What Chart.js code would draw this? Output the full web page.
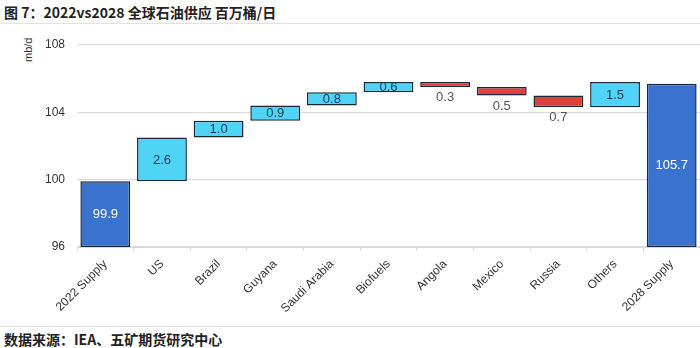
<!DOCTYPE html>
<html>
<head>
<meta charset="utf-8">
<script src="https://cdn.jsdelivr.net/npm/chart.js@4"></script>
<style>
  html, body { margin: 0; padding: 0; background: #fff; }
  body { width: 700px; height: 348px; position: relative; overflow: hidden; }
  .title {
    position: absolute; left: 4px; top: 2px;
    font: bold 14px "Noto Sans CJK SC", sans-serif; color: #222;
  }
  .rule { position: absolute; left: 0; width: 700px; height: 1px; background: #e2e2e2; }
  .source {
    position: absolute; left: 4px; top: 329px;
    font: bold 14px "Noto Sans CJK SC", sans-serif; color: #222;
  }
  .unit {
    position: absolute; left: 22px; top: 62px;
    font: 11px "Liberation Sans", Arial, sans-serif; color: #333;
    transform: rotate(-90deg); transform-origin: left top;
  }
  #wrap { position: absolute; left: 0; top: 24px; width: 700px; height: 300px; }
</style>
</head>
<body>
<div class="title">图 7：2022vs2028 全球石油供应 百万桶/日</div>
<div class="rule" style="top:23px"></div>
<div class="unit">mb/d</div>
<div id="wrap"><canvas id="supplyChart"></canvas></div>
<div class="rule" style="top:326px"></div>
<div class="source">数据来源：IEA、五矿期货研究中心</div>

<script>
// Supply bridge, mb/d
const categories = ['2022 Supply', 'US', 'Brazil', 'Guyana', 'Saudi Arabia', 'Biofuels',
                    'Angola', 'Mexico', 'Russia', 'Others', '2028 Supply'];
const startTotal = 99.9;
const changes = [2.6, 1.0, 0.9, 0.8, 0.6, -0.3, -0.5, -0.7, 1.5];
const endTotal = 105.7;
const yTicks = [96, 100, 104, 108];

const axisMin = 96;

// build floating [from, to] ranges for the waterfall
const ranges = [[axisMin, startTotal]];
const labels = [startTotal.toFixed(1)];
const kinds = ['total'];
let level = startTotal;
changes.forEach(function(d) {
    ranges.push([level, level + d]);
    labels.push(Math.abs(d).toFixed(1));
    kinds.push(d >= 0 ? 'up' : 'down');
    level += d;
});
ranges.push([axisMin, endTotal]);
labels.push(endTotal.toFixed(1));
kinds.push('total');

const fillColors = { total: '#3a72d0', up: '#4fd3f7', down: '#e0403c' };

const barLabels = {
    id: 'barLabels',
    afterDatasetsDraw(chart) {
        const ctx = chart.ctx;
        const meta = chart.getDatasetMeta(0);
        ctx.save();
        ctx.textAlign = 'center';
        ctx.textBaseline = 'middle';
        ctx.font = '13px "Liberation Sans", Arial, sans-serif';
        meta.data.forEach(function(bar, i) {
            const top = Math.min(bar.y, bar.base);
            const bottom = Math.max(bar.y, bar.base);
            let y = (top + bottom) / 2;
            if (kinds[i] === 'total') {
                ctx.fillStyle = '#ffffff';
            } else if (kinds[i] === 'up') {
                ctx.fillStyle = '#1c3a55';
            } else {
                ctx.fillStyle = '#555555';
                y = bottom + 10;
            }
            ctx.fillText(labels[i], bar.x, y + 0.5);
        });
        ctx.restore();
    }
};

const ctx = document.getElementById('supplyChart').getContext('2d');
const supplyChart = new Chart(ctx, {
    type: 'bar',
    data: {
        labels: categories,
        datasets: [{
            data: ranges,
            backgroundColor: kinds.map(k => fillColors[k]),
            borderColor: '#1b2a36',
            borderWidth: 1.5,
            borderSkipped: false,
            categoryPercentage: 1.0,
            barPercentage: 0.88
        }]
    },
    options: {
        responsive: true,
        maintainAspectRatio: false,
        animation: false,
        layout: { padding: { top: 21, right: 0, bottom: 0, left: 0 } },
        plugins: {
            legend: { display: false },
            tooltip: { enabled: false }
        },
        scales: {
            x: {
                afterFit: function(scale) { scale.height = 77; },
                grid: {
                    display: true,
                    drawOnChartArea: false,
                    drawTicks: true,
                    tickLength: 4,
                    color: '#d8d8d8'
                },
                border: { display: true, color: '#d8d8d8' },
                ticks: {
                    maxRotation: 45,
                    minRotation: 45,
                    color: '#333',
                    padding: 6,
                    font: { family: '"Liberation Sans", Arial, sans-serif', size: 12 }
                }
            },
            y: {
                min: axisMin,
                max: 108,
                afterFit: function(scale) { scale.width = 77; },
                afterBuildTicks: function(scale) {
                    scale.ticks = yTicks.map(v => ({ value: v }));
                },
                grid: {
                    color: '#dcdcdc',
                    lineWidth: 1.2,
                    drawTicks: false
                },
                border: { display: false },
                ticks: {
                    color: '#333',
                    padding: 12,
                    font: { family: '"Liberation Sans", Arial, sans-serif', size: 12 }
                }
            }
        }
    },
    plugins: [barLabels]
});
</script>
</body>
</html>
